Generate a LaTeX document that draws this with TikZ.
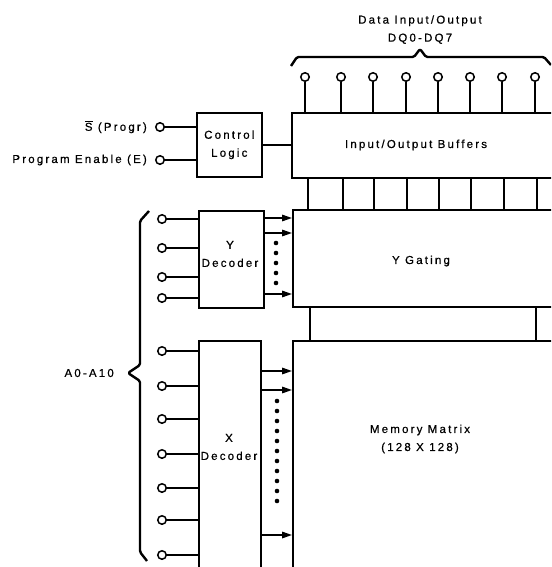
\documentclass[tikz,border=0pt]{standalone}
\usepackage{fontspec}
\setmainfont{Liberation Sans}[LetterSpace=19, FakeBold=0.6]
\usetikzlibrary{arrows.meta, positioning}

\tikzset{
  blk/.style={draw, line width=1.6pt, fill=white, inner sep=0pt, anchor=north west},
  pin/.style={circle, draw, line width=1.5pt, fill=white, minimum size=8.5pt, inner sep=0pt},
  lbl/.style={inner sep=0pt, font=\fontsize{11.5}{18}\selectfont, align=center},
  wire/.style={line width=1.6pt},
  arr/.style={wire, -{Triangle[length=10pt,width=6.5pt]}},
  brc/.style={line width=2.4pt, line join=round, rounded corners=1.5pt}
}

\begin{document}
\begin{tikzpicture}[x=1pt, y=-1pt]
  \useasboundingbox (0,0) rectangle (551,567);
  \clip (0,0) rectangle (551,567);

  % Blocks
  \node[blk, minimum width=65pt, minimum height=64pt] (ctrl) at (196,112) {};
  \node[blk, minimum width=320pt, minimum height=65pt] (iob) at (291,112) {};
  \node[blk, minimum width=65pt, minimum height=97pt] (ydec) at (198,210) {};
  \node[blk, minimum width=320pt, minimum height=97pt] (ygate) at (292,209) {};
  \node[blk, minimum width=62pt, minimum height=300pt] (xdec) at (198,340) {};
  \node[blk, minimum width=320pt, minimum height=300pt] (mem) at (292,340) {};

  % Block texts
  \node[lbl] (ctrltxt) at (ctrl.center) {Control\\Logic};
  \node[lbl] (iobtxt) at (416,145) {Input/Output Buffers};
  \node[lbl] (ydectxt) at (230,254) {Y\\Decoder};
  \node[lbl] (ygatetxt) at (421,261) {Y Gating};
  \node[lbl] (xdectxt) at (229,447) {X\\Decoder};
  \node[lbl] (memtxt) at (420,439) {Memory Matrix\\(128 X 128)};

  % Data pins
  \foreach \x [count=\i] in {305,341,373,406,438,470,502,535} {
    \node[pin] (dq\i) at (\x,77) {};
    \draw[wire] (dq\i.south) -- (dq\i |- iob.north);
  }
  \foreach \x in {308,343,374,407,439,471,504,537}
    \draw[wire] (iob.south -| \x,0) -- (ygate.north -| \x,0);
  \foreach \x in {310,536}
    \draw[wire] (ygate.south -| \x,0) -- (mem.north -| \x,0);

  % Top brace
  \draw[brc] (291,66) -- (297,57) -- (414,57) -- (420,49) -- (426,57)
    -- (544,57) -- (551,65);
  \coordinate (dqtip) at (420,49);
  \node[lbl, above=5pt of dqtip] (dqlbl) {Data Input/Output\\DQ0-DQ7};

  % Control inputs
  \node[pin] (spin) at (160,127) {};
  \node[pin] (epin) at (160,160) {};
  \draw[wire] (spin.east) -- (spin -| ctrl.west);
  \draw[wire] (epin.east) -- (epin -| ctrl.west);
  \node[lbl, left=8pt of spin] (slbl) {$\overline{\mbox{S}}$ (Progr)};
  \node[lbl, left=8pt of epin] (elbl) {Program Enable (E)};
  \draw[wire] (ctrl.east) -- (ctrl.east -| iob.west);

  % Address inputs
  \foreach \y [count=\i] in {219,248,277,298} {
    \node[pin] (ya\i) at (162,\y) {};
    \draw[wire] (ya\i.east) -- (ya\i -| ydec.west);
  }
  \foreach \y [count=\i] in {351,386,419,454,488,520,555} {
    \node[pin] (xa\i) at (162,\y) {};
    \draw[wire] (xa\i.east) -- (xa\i -| xdec.west);
  }

  % Decoder outputs
  \foreach \y in {218,233,294}
    \draw[arr] (ydec.east |- 0,\y) -- (ygate.west |- 0,\y);
  \foreach \y in {371,390,535}
    \draw[arr] (xdec.east |- 0,\y) -- (mem.west |- 0,\y);
  \foreach \y in {243,253,...,283}
    \fill (276,\y) circle (2.3pt);
  \foreach \y in {401,411,...,501}
    \fill (277,\y) circle (2.3pt);

  % Address brace
  \draw[brc] (149,211) -- (140,221) -- (140,365) -- (128,373) -- (140,381)
    -- (140,552) -- (147,561);
  \coordinate (atip) at (128,373);
  \node[lbl, left=14pt of atip] (albl) {A0-A10};
\end{tikzpicture}
\end{document}
